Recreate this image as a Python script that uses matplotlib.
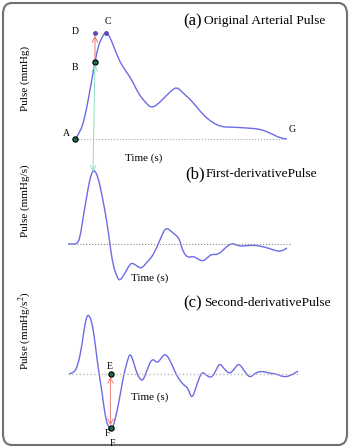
import matplotlib
matplotlib.use("Agg")
import matplotlib.pyplot as plt
from matplotlib.patches import FancyBboxPatch, ConnectionPatch, PathPatch
from matplotlib.path import Path

plt.rcParams['font.family'] = ['Liberation Serif', 'DejaVu Serif']
plt.rcParams['mathtext.fontset'] = 'stix'

# (a) original arterial pulse: time (s), pressure (mmHg)
t_a = [0.028, 0.048, 0.068, 0.088, 0.108, 0.120, 0.136, 0.152, 0.168, 0.188,
       0.208, 0.228, 0.256, 0.280, 0.308, 0.332, 0.356, 0.388, 0.416, 0.436,
       0.456, 0.500, 0.540, 0.580, 0.616, 0.648, 0.716, 0.768, 0.808, 0.848, 0.876]
p_a = [75.3, 77.8, 84.2, 95.0, 106.2, 112.2, 116.2, 118.4, 116.2, 111.0,
       106.2, 103.0, 99.0, 93.8, 90.2, 87.8, 89.0, 92.2, 95.0, 96.2,
       94.2, 90.2, 85.0, 81.8, 80.2, 80.2, 79.8, 79.4, 77.8, 75.8, 75.4]

# (b) first derivative (mmHg/s)
t_b = [0.000, 0.016, 0.036, 0.048, 0.060, 0.076, 0.088, 0.100, 0.108, 0.120,
       0.136, 0.156, 0.168, 0.180, 0.196, 0.208, 0.228, 0.248, 0.260, 0.280,
       0.296, 0.316, 0.336, 0.356, 0.376, 0.392, 0.416, 0.440, 0.448, 0.460,
       0.480, 0.500, 0.520, 0.540, 0.560, 0.576, 0.600, 0.628, 0.656, 0.680,
       0.708, 0.736, 0.768, 0.800, 0.836, 0.856, 0.876]
d1_b = [0, 0, 0, 30, 130, 245, 330, 368, 365, 335,
        245, 110, -5, -105, -165, -186, -145, -100, -95, -115,
        -122, -90, -65, -15, 45, 84, 60, 35, 15, -40,
        -70, -60, -75, -88, -65, -50, -55, -20, 6, -10,
        -10, -5, -10, -20, -36, -35, -20]

# (c) second derivative (x100 mmHg/s^2)
t_c = [0.004, 0.024, 0.040, 0.056, 0.068, 0.080, 0.096, 0.108, 0.120, 0.136,
       0.148, 0.160, 0.176, 0.188, 0.204, 0.220, 0.236, 0.248, 0.260, 0.276,
       0.288, 0.300, 0.316, 0.336, 0.356, 0.368, 0.388, 0.408, 0.428, 0.448,
       0.468, 0.480, 0.496, 0.516, 0.536, 0.556, 0.576, 0.596, 0.608, 0.628,
       0.648, 0.668, 0.684, 0.708, 0.728, 0.748, 0.776, 0.800, 0.836, 0.860,
       0.888, 0.920]
d2_c = [0, 1, 9, 29, 51, 61, 52, 32, 7, -18,
        -41, -53, -56, -46, -28, -4, 12, 21, 14, 0,
        -5, -7, 4, 16, 11, 14, 21, 14, 2, -7,
        -12, -14, -26, -10, 3, -2, -4, 6, 11, 4,
        0, 6, 11, 2, -4, 1, 3, 1, 0, -3,
        -2, 3]

# feature points
pt_A = (0.028, 75.3)
pt_B = (0.108, 106.2)
pt_C = (0.152, 117.8)
pt_D = (0.108, 117.8)
pk_b = (0.100, 360)
pt_E = (0.170, 0)
pt_F = (0.170, -54)

W, H = 350, 448
fig = plt.figure(figsize=(W / 100, H / 100), dpi=100)


def box(x0, y0, x1, y1):
    return [x0 / W, 1 - y1 / H, (x1 - x0) / W, (y1 - y0) / H]


def px(x, y):
    return x / W, 1 - y / H


def smooth_line(ax, xs, ys, **kw):
    # quadratic bezier through midpoints, points act as control points
    pts = list(zip(xs, ys))
    verts = [pts[0]]
    codes = [Path.MOVETO]
    for i in range(1, len(pts) - 1):
        mid = ((pts[i][0] + pts[i + 1][0]) / 2, (pts[i][1] + pts[i + 1][1]) / 2)
        verts += [pts[i], mid]
        codes += [Path.CURVE3, Path.CURVE3]
    verts.append(pts[-1])
    codes.append(Path.LINETO)
    ax.add_patch(PathPatch(Path(verts, codes), fill=False, **kw))


line_col = '#6b6be6'
ax_a = fig.add_axes(box(68, 10, 300, 150))
ax_b = fig.add_axes(box(68, 160, 300, 290))
ax_c = fig.add_axes(box(68, 300, 300, 445))
for ax in (ax_a, ax_b, ax_c):
    ax.set_xlim(0, 0.928)
    ax.axis('off')
ax_a.set_ylim(71, 127)
ax_b.set_ylim(-230, 420)
ax_c.set_ylim(-71, 74)

# baselines
ax_a.plot([pt_A[0], 0.876], [75.2, 75.2], ls=':', color='#aaaaaa', lw=0.8)
ax_b.plot([0, 0.888], [0, 0], ls=':', color='#888888', lw=0.8)
ax_c.plot([0, 0.928], [0, 0], ls=':', color='#bbbbbb', lw=1.0)
ax_a.plot([pt_D[0], pt_C[0]], [pt_D[1], pt_C[1]], ls=':', color='#cccccc', lw=0.8)

smooth_line(ax_a, t_a, p_a, ec=line_col, lw=1.0)
smooth_line(ax_b, t_b, d1_b, ec=line_col, lw=1.0)
smooth_line(ax_c, t_c, d2_c, ec=line_col, lw=1.0)

# arrows
ax_a.annotate('', xy=pt_D, xytext=pt_B,
              arrowprops=dict(arrowstyle='->', color='#f07070', lw=0.7,
                              shrinkA=2, shrinkB=2))
con = ConnectionPatch(xyA=pk_b, coordsA=ax_b.transData, xyB=pt_B, coordsB=ax_a.transData,
                      arrowstyle='<->', color='#8fdcc4', lw=0.7, shrinkA=0, shrinkB=2)
fig.add_artist(con)
ax_c.annotate('', xy=pt_E, xytext=pt_F,
              arrowprops=dict(arrowstyle='<->', color='#f07070', lw=0.6,
                              shrinkA=2, shrinkB=2))

# markers
green = '#1d6b45'
for ax, p in ((ax_a, pt_A), (ax_a, pt_B), (ax_c, pt_E), (ax_c, pt_F)):
    ax.plot(*p, 'o', ms=3.8, mfc=green, mec='black', mew=0.8, zorder=5)
for p in (pt_C, pt_D):
    ax_a.plot(*p, 'o', ms=2.5, color='#5a4ab0', zorder=5)

# titles
fig.text(*px(183, 21), '(a)', fontsize=12, va='center')
fig.text(*px(204, 21), 'Original Arterial Pulse', fontsize=9.6, va='center')
fig.text(*px(185, 174), '(b)', fontsize=12, va='center')
fig.text(*px(206, 174), 'First-derivativePulse', fontsize=9.6, va='center')
fig.text(*px(183, 303), '(c)', fontsize=12, va='center')
fig.text(*px(204, 303), 'Second-derivativePulse', fontsize=9.6, va='center')

# y labels
fig.text(*px(25, 78), 'Pulse (mmHg)', rotation=90, fontsize=8, ha='center', va='center')
fig.text(*px(25, 201), 'Pulse (mmHg/s)', rotation=90, fontsize=8, ha='center', va='center')
fig.text(*px(25, 331), 'Pulse (mmHg/s$^2$)', rotation=90, fontsize=8, ha='center', va='center')

# time labels
fig.text(*px(144, 158), 'Time (s)', fontsize=8, ha='center', va='center')
fig.text(*px(150, 278), 'Time (s)', fontsize=8, ha='center', va='center')
fig.text(*px(150, 397), 'Time (s)', fontsize=8, ha='center', va='center')

# point labels
for x, y, s in ((66, 133, 'A'), (75, 67, 'B'), (108, 22, 'C'), (75, 31, 'D'),
                (292, 129, 'G'), (110, 366, 'E'), (107, 433, 'F'), (112, 443, 'F')):
    fig.text(*px(x, y), s, fontsize=7, ha='center', va='center')

fig.add_artist(FancyBboxPatch((3 / W, 3 / H), 344 / W, 442 / H,
                              boxstyle='round,pad=0,rounding_size=0.025',
                              transform=fig.transFigure, fill=False,
                              ec='#707070', lw=1.5))

fig.savefig('out.png', dpi=100)
